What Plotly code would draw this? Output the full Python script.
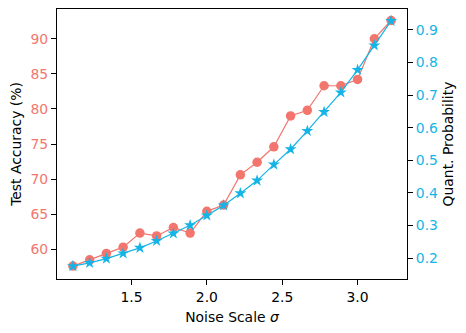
import plotly.graph_objects as go

# noise scale sigma = 1 + k/9, k = 1..20
noise_scale = [1 + k / 9 for k in range(1, 21)]

test_accuracy = [57.6, 58.5, 59.4, 60.3, 62.3, 61.9, 63.1, 62.3, 65.4, 66.3,
                 70.6, 72.4, 74.6, 79.0, 79.8, 83.3, 83.3, 84.2, 90.0, 92.6]

quant_prob = [0.176, 0.186, 0.199, 0.215, 0.232, 0.253, 0.276, 0.301, 0.331, 0.362,
              0.399, 0.438, 0.487, 0.534, 0.590, 0.648, 0.708, 0.777, 0.852, 0.927]

red = "#F2766E"
blue = "#14B5E6"
font = "DejaVu Sans"
fs = 13.9

fig = go.Figure()

fig.add_trace(
    go.Scatter(
        x=noise_scale,
        y=test_accuracy,
        mode="lines+markers",
        line=dict(color=red, width=1.2),
        marker=dict(symbol="circle", size=9.5, color=red),
        yaxis="y",
        showlegend=False,
    )
)

fig.add_trace(
    go.Scatter(
        x=noise_scale,
        y=quant_prob,
        mode="lines+markers",
        line=dict(color=blue, width=1.2),
        marker=dict(symbol="star", size=9, color=blue),
        yaxis="y2",
        showlegend=False,
    )
)

axis_common = dict(
    showgrid=False,
    zeroline=False,
    showline=True,
    linecolor="black",
    linewidth=1.1,
    ticks="outside",
    ticklen=5,
    tickwidth=1.1,
    tickcolor="black",
    automargin=False,
)

# the page body adds ~8px around the figure, so the figure is drawn 8px smaller
fig.update_layout(
    width=458,
    height=325,
    margin=dict(l=49, r=59, t=1, b=54),
    plot_bgcolor="white",
    paper_bgcolor="white",
    font=dict(family=font, size=fs, color="black"),
    xaxis=dict(
        **axis_common,
        mirror=True,
        range=[1.0056, 3.328],
        tickvals=[1.5, 2.0, 2.5, 3.0],
        ticktext=["1.5", "2.0", "2.5", "3.0"],
        title=dict(text="Noise Scale <i>σ</i>", standoff=8, font=dict(size=fs)),
    ),
    yaxis=dict(
        **axis_common,
        range=[55.76, 94.24],
        tickvals=[60, 65, 70, 75, 80, 85, 90],
        tickfont=dict(color=red),
        title=dict(text="Test Accuracy (%)", standoff=6, font=dict(size=fs)),
    ),
    yaxis2=dict(
        **axis_common,
        overlaying="y",
        side="right",
        range=[0.1365, 0.9635],
        tickvals=[0.2, 0.3, 0.4, 0.5, 0.6, 0.7, 0.8, 0.9],
        ticktext=["0.2", "0.3", "0.4", "0.5", "0.6", "0.7", "0.8", "0.9"],
        tickfont=dict(color=blue),
        title=dict(text="Quant. Probability", standoff=6, font=dict(size=fs)),
    ),
)

fig.write_html("out.html")
